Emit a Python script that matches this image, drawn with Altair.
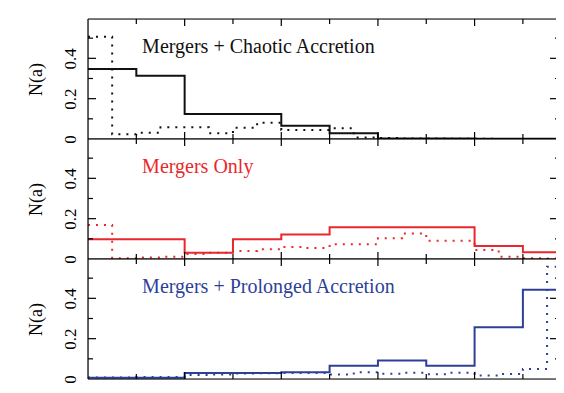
import altair as alt
import pandas as pd

# bin edges
edges10 = [round(i * 0.1, 2) for i in range(11)]
edges20 = [round(i * 0.05, 2) for i in range(21)]

# Mergers + Chaotic Accretion
chaotic_solid = [0.347, 0.314, 0.124, 0.124, 0.066, 0.028, 0.003, 0.002, 0.001, 0.001]
chaotic_dotted = [0.507, 0.023, 0.031, 0.058, 0.058, 0.028, 0.056, 0.081, 0.045, 0.045,
                  0.053, 0.008, 0.005, 0.003, 0.002, 0.001, 0.001, 0.0, 0.0, 0.0]
# Mergers Only
only_solid = [0.098, 0.098, 0.031, 0.098, 0.122, 0.157, 0.157, 0.157, 0.064, 0.033]
only_dotted = [0.169, 0.004, 0.008, 0.011, 0.025, 0.031, 0.040, 0.048, 0.060, 0.055,
               0.073, 0.073, 0.103, 0.127, 0.091, 0.091, 0.045, 0.011, 0.004, 0.003]
# Mergers + Prolonged Accretion
prolonged_solid = [0.006, 0.006, 0.030, 0.030, 0.033, 0.066, 0.092, 0.066, 0.256, 0.443]
prolonged_dotted = [0.008, 0.008, 0.010, 0.010, 0.020, 0.022, 0.027, 0.028, 0.030, 0.030,
                    0.022, 0.033, 0.026, 0.031, 0.024, 0.031, 0.017, 0.025, 0.050, 0.557]

panel_labels = ["Mergers + Chaotic Accretion", "Mergers Only", "Mergers + Prolonged Accretion"]
panel_colors = ["#111111", "#e8282c", "#2e3f98"]

x_label_values = [0.2, 0.4, 0.6, 0.8]
y_label_values = [0, 0.2, 0.4]
x_tick_minor = [0.1, 0.3, 0.5, 0.7, 0.9]
x_tick_major = [0.2, 0.4, 0.6, 0.8]
y_tick_minor = [0.1, 0.3, 0.5]
y_tick_major = [0.2, 0.4]
label_pos = (0.112, 0.425)

W, H = 468, 120
XMAX = 0.9685
YMAX = 0.595
SERIF = "Liberation Serif"
TICK_W = 1.2


def steps(vals, edges):
    xs = list(edges[:-1]) + [edges[-1]]
    ys = list(vals) + [vals[-1]]
    return pd.DataFrame({"x": xs, "y": ys})


def panel(solid, dotted, label, color, bottom):
    if bottom:
        xaxis = alt.Axis(values=x_label_values, tickSize=0, domain=False, grid=False,
                         labelFont=SERIF, labelFontSize=17, labelPadding=7,
                         labelColor="black", title=None, format="~g")
    else:
        xaxis = None
    yaxis = alt.Axis(values=y_label_values, tickSize=0, domain=False, grid=False,
                     labelFont=SERIF, labelFontSize=17, labelAngle=270,
                     labelAlign="center", labelBaseline="bottom", labelPadding=9,
                     labelColor="black", format="~g",
                     title="N(a)", titleFont=SERIF, titleFontSize=18,
                     titleFontWeight="normal", titleColor="black", titlePadding=16)

    def X():
        return alt.X("x:Q", scale=alt.Scale(domain=[0, XMAX], nice=False, zero=False), axis=xaxis)

    def Y():
        return alt.Y("y:Q", scale=alt.Scale(domain=[0, YMAX], nice=False, zero=False), axis=yaxis)

    solid_line = alt.Chart(steps(solid, edges10)).mark_line(
        interpolate="step-after", color=color, strokeWidth=2, clip=True
    ).encode(x=X(), y=Y())
    dotted_line = alt.Chart(steps(dotted, edges20)).mark_line(
        interpolate="step-after", color=color, strokeWidth=2, strokeDash=[2, 6], clip=True
    ).encode(x=X(), y=Y())
    text = alt.Chart(pd.DataFrame({"x": [label_pos[0]], "y": [label_pos[1]], "label": [label]})).mark_text(
        align="left", baseline="alphabetic", font=SERIF, fontSize=20, color=color
    ).encode(x=X(), y=Y(), text="label:N")

    one = pd.DataFrame({"k": [0]})
    frame = [
        alt.Chart(one).mark_rule(color="black", strokeWidth=TICK_W).encode(
            x=alt.value(0), y=alt.value(0), y2=alt.value(H)),
        alt.Chart(one).mark_rule(color="black", strokeWidth=TICK_W).encode(
            x=alt.value(0), x2=alt.value(W), y=alt.value(0)),
        alt.Chart(one).mark_rule(color="black", strokeWidth=TICK_W).encode(
            x=alt.value(0), x2=alt.value(W), y=alt.value(H)),
    ]

    layers = [solid_line, dotted_line, text] + frame
    for vals, ln in ((x_tick_minor, 5), (x_tick_major, 7)):
        df = pd.DataFrame({"x": vals})
        layers.append(alt.Chart(df).mark_rule(color="black", strokeWidth=TICK_W).encode(
            x=X(), y=alt.value(0), y2=alt.value(ln)))
        layers.append(alt.Chart(df).mark_rule(color="black", strokeWidth=TICK_W).encode(
            x=X(), y=alt.value(H - ln), y2=alt.value(H)))
    for vals, ln, rln in ((y_tick_minor, 5, 1), (y_tick_major, 8, 6)):
        df = pd.DataFrame({"y": vals})
        layers.append(alt.Chart(df).mark_rule(color="black", strokeWidth=TICK_W).encode(
            y=Y(), x=alt.value(0), x2=alt.value(ln)))
        layers.append(alt.Chart(df).mark_rule(color="black", strokeWidth=TICK_W).encode(
            y=Y(), x=alt.value(W - rln), x2=alt.value(W)))
    return alt.layer(*layers).properties(width=W, height=H)


p1 = panel(chaotic_solid, chaotic_dotted, panel_labels[0], panel_colors[0], False)
p2 = panel(only_solid, only_dotted, panel_labels[1], panel_colors[1], False)
p3 = panel(prolonged_solid, prolonged_dotted, panel_labels[2], panel_colors[2], True)

chart = alt.vconcat(p1, p2, p3, spacing=0, bounds="flush").properties(
    autosize=alt.AutoSizeParams(type="none"),
    padding={"left": 80, "top": 11, "right": 0, "bottom": 370},
).configure_view(strokeWidth=0).configure(background="white")

chart.save("out.html", embed_options={"renderer": "svg", "actions": False})
